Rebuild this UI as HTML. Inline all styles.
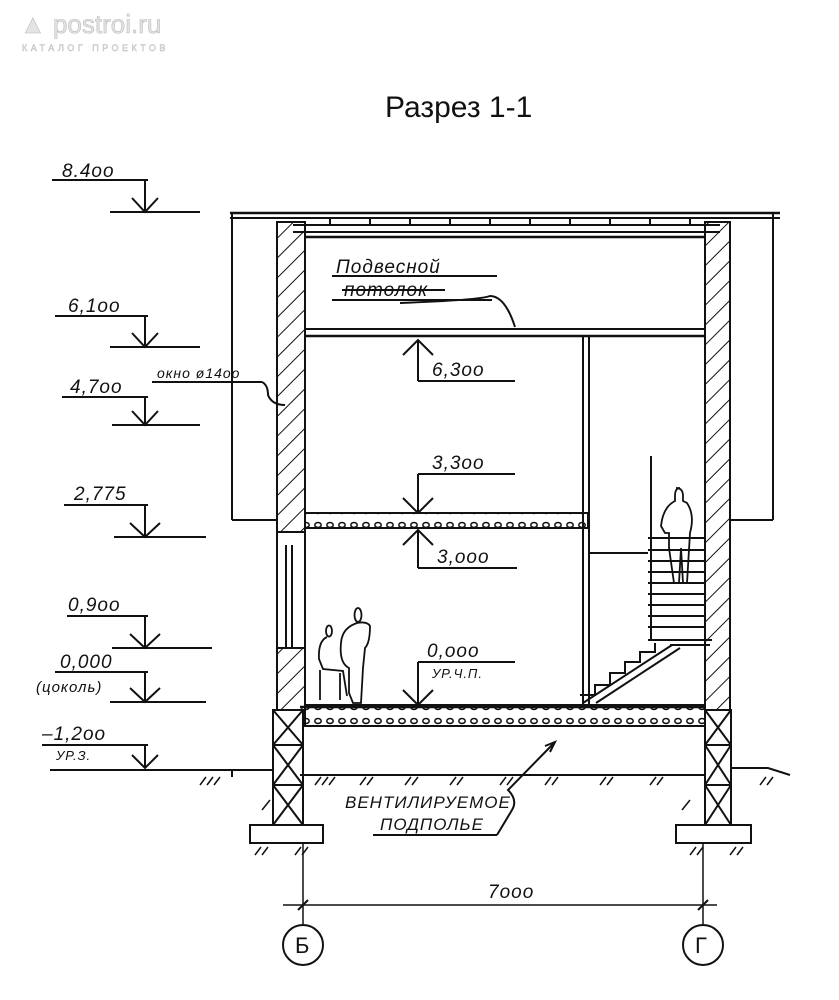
<!DOCTYPE html>
<html><head><meta charset="utf-8"><style>
html,body{margin:0;padding:0;background:#fff;}
svg{display:block;}
text{font-family:"Liberation Sans","DejaVu Sans",sans-serif;fill:#111;}
.h{font-style:italic;font-size:19px;letter-spacing:1px;}
</style></head><body>
<svg width="839" height="1000" viewBox="0 0 839 1000" xmlns="http://www.w3.org/2000/svg">
<defs>
<pattern id="hat" patternUnits="userSpaceOnUse" width="14" height="14" patternTransform="rotate(45)">
<line x1="0" y1="0" x2="0" y2="14" stroke="#111" stroke-width="2"/>
</pattern>
<pattern id="dots" patternUnits="userSpaceOnUse" width="12" height="14">
<ellipse cx="6" cy="7" rx="3.2" ry="2.5" fill="none" stroke="#111" stroke-width="1.5"/>
</pattern>
</defs>
<!-- logo -->
<text x="20" y="33" font-size="26" style="fill:#e4e4e4;stroke:#bbb;stroke-width:0.6">&#9650; postroi.ru</text>
<text x="22" y="51" font-size="9" style="fill:#e4e4e4;stroke:#bbb;stroke-width:0.4" letter-spacing="3.5">КАТАЛОГ ПРОЕКТОВ</text>
<!-- title -->
<text x="385" y="117" font-size="30">Разрез 1-1</text>

<g stroke="#111" fill="none" stroke-width="2">
<g>
<line x1="52" y1="180" x2="148" y2="180"/><line x1="145" y1="180" x2="145" y2="212"/><line x1="110" y1="212" x2="200" y2="212"/><polyline points="132,198 145,212 158,198"/>
<line x1="55" y1="316" x2="148" y2="316"/><line x1="145" y1="316" x2="145" y2="347"/><line x1="110" y1="347" x2="200" y2="347"/><polyline points="132,333 145,347 158,333"/>
<line x1="62" y1="397" x2="148" y2="397"/><line x1="145" y1="397" x2="145" y2="425"/><line x1="112" y1="425" x2="200" y2="425"/><polyline points="132,411 145,425 158,411"/>
<line x1="64" y1="505" x2="148" y2="505"/><line x1="145" y1="505" x2="145" y2="537"/><line x1="114" y1="537" x2="206" y2="537"/><polyline points="130,523 145,537 160,523"/>
<line x1="67" y1="616" x2="148" y2="616"/><line x1="145" y1="616" x2="145" y2="648"/><line x1="112" y1="648" x2="212" y2="648"/><polyline points="130,634 145,648 160,634"/>
<line x1="55" y1="672" x2="148" y2="672"/><line x1="145" y1="672" x2="145" y2="702"/><line x1="110" y1="702" x2="206" y2="702"/><polyline points="130,688 145,702 160,688"/>
<line x1="42" y1="745" x2="148" y2="745"/><line x1="145" y1="745" x2="145" y2="768"/><polyline points="132,755 145,768 158,755"/>
</g>
<line x1="50" y1="770" x2="272" y2="770"/>
<line x1="232" y1="770" x2="232" y2="777"/>
<line x1="300" y1="775" x2="705" y2="775"/>
<polyline points="732,768 768,768 790,775"/>
<line x1="230" y1="213" x2="780" y2="213" stroke-width="2.5"/>
<line x1="230" y1="218" x2="780" y2="218"/>
<line x1="232" y1="213" x2="232" y2="520"/><line x1="232" y1="520" x2="278" y2="520"/>
<line x1="773" y1="213" x2="773" y2="520"/><line x1="730" y1="520" x2="773" y2="520"/>
<line x1="293" y1="225" x2="720" y2="225"/><line x1="293" y1="232" x2="720" y2="232"/>
<line x1="305" y1="237" x2="705" y2="237" stroke-width="2.5"/>
<g stroke-width="2">
<line x1="330" y1="218" x2="330" y2="225"/><line x1="370" y1="218" x2="370" y2="225"/><line x1="410" y1="218" x2="410" y2="225"/><line x1="450" y1="218" x2="450" y2="225"/><line x1="490" y1="218" x2="490" y2="225"/><line x1="530" y1="218" x2="530" y2="225"/><line x1="570" y1="218" x2="570" y2="225"/><line x1="610" y1="218" x2="610" y2="225"/><line x1="650" y1="218" x2="650" y2="225"/><line x1="690" y1="218" x2="690" y2="225"/>
</g>
<rect x="277" y="222" width="28" height="310" fill="url(#hat)"/>
<rect x="277" y="648" width="28" height="62" fill="url(#hat)"/>
<rect x="705" y="222" width="25" height="488" fill="url(#hat)"/>
<rect x="273" y="710" width="30" height="115"/>
<rect x="705" y="710" width="26" height="115"/>
<path d="M273,710 L303,745 M303,710 L273,745 M273,745 L303,785 M303,745 L273,785 M273,785 L303,825 M303,785 L273,825"/>
<path d="M705,710 L731,745 M731,710 L705,745 M705,745 L731,785 M731,745 L705,785 M705,785 L731,825 M731,785 L705,825"/>
<line x1="273" y1="745" x2="303" y2="745"/><line x1="273" y1="785" x2="303" y2="785"/>
<line x1="705" y1="745" x2="731" y2="745"/><line x1="705" y1="785" x2="731" y2="785"/>
<rect x="277" y="532" width="28" height="116"/>
<line x1="286" y1="545" x2="286" y2="648"/><line x1="292" y1="545" x2="292" y2="648"/>
<rect x="250" y="825" width="73" height="18"/>
<rect x="676" y="825" width="75" height="18"/>
<line x1="305" y1="329" x2="705" y2="329"/><line x1="305" y1="336" x2="705" y2="336" stroke-width="2.5"/>
<rect x="305" y="513" width="283" height="15" fill="url(#dots)"/>
<rect x="305" y="705" width="400" height="21" fill="url(#dots)"/>
<line x1="300" y1="707" x2="705" y2="707" stroke-width="2.5"/>
<line x1="583" y1="336" x2="583" y2="707"/><line x1="589" y1="336" x2="589" y2="707"/>
<line x1="589" y1="553" x2="648" y2="553"/>
<line x1="418" y1="340" x2="418" y2="381"/><line x1="418" y1="381" x2="515" y2="381"/><polyline points="403,355 418,340 433,355"/>
<line x1="418" y1="474" x2="418" y2="513"/><line x1="418" y1="474" x2="515" y2="474"/><polyline points="403,498 418,513 433,498"/>
<line x1="418" y1="530" x2="418" y2="568"/><line x1="418" y1="568" x2="517" y2="568"/><polyline points="403,545 418,530 433,545"/>
<line x1="418" y1="662" x2="418" y2="705"/><line x1="418" y1="662" x2="515" y2="662"/><polyline points="403,690 418,705 433,690"/>
<line x1="332" y1="276" x2="497" y2="276"/><line x1="332" y1="300" x2="492" y2="300"/><line x1="342" y1="290" x2="445" y2="290"/>
<path d="M400,303 Q480,300 490,296 Q505,296 515,327"/>
<line x1="152" y1="382" x2="262" y2="382"/><path d="M262,382 Q268,385 268,395 Q272,405 285,405"/>
<line x1="651" y1="456" x2="651" y2="640"/>
<line x1="648" y1="538" x2="705" y2="538"/><line x1="648" y1="550" x2="705" y2="550"/><line x1="648" y1="561" x2="705" y2="561"/><line x1="648" y1="572" x2="705" y2="572"/><line x1="648" y1="583" x2="705" y2="583"/><line x1="648" y1="594" x2="705" y2="594"/><line x1="648" y1="605" x2="705" y2="605"/><line x1="648" y1="616" x2="705" y2="616"/><line x1="648" y1="627" x2="705" y2="627"/>
<line x1="648" y1="640" x2="712" y2="640"/><line x1="670" y1="645" x2="710" y2="645"/>
<line x1="583" y1="703" x2="672" y2="645"/><line x1="596" y1="703" x2="680" y2="648"/>
<polyline points="580,695 595,695 595,685 610,685 610,673 625,673 625,662 640,662 640,652 655,652 655,643"/>
<path d="M680,488 q-5,0 -5,8 v5 q-12,6 -14,25 l4,7 l4,0 v15 l5,35 h5 l2,-35 l2,35 h4 l3,-50 q5,-18 -3,-30 l-4,-2 v-5 q0,-8 -7,-8z" stroke-width="1.8"/>
<ellipse cx="358" cy="615" rx="3.5" ry="7" stroke-width="1.8"/>
<path d="M357,623 q-15,5 -16,20 q-2,20 8,25 v25 l4,10 h8 l2,-35 l2,-20 q5,-5 5,-22 q-3,-5 -13,-3z" stroke-width="1.8"/>
<ellipse cx="329" cy="631" rx="3" ry="5.5" stroke-width="1.8"/>
<path d="M327,637 q-9,4 -8,22 l4,10 l20,2 l4,25 M320,670 v30 M340,673 v27" stroke-width="1.8"/>
<line x1="373" y1="835" x2="497" y2="835"/>
<path d="M497,835 L512,810 Q518,800 508,790 L555,742"/><polyline points="545,746 555,742 550,752"/>
<path stroke-width="1.5" d="M200,785 l6,-8 M207,785 l6,-8 M214,785 l6,-8 M315,785 l6,-8 M322,785 l6,-8 M329,785 l6,-8 M360,785 l6,-8 M367,785 l6,-8 M405,785 l6,-8 M412,785 l6,-8 M450,785 l6,-8 M457,785 l6,-8 M500,785 l6,-8 M507,785 l6,-8 M545,785 l6,-8 M552,785 l6,-8 M600,785 l6,-8 M607,785 l6,-8 M650,785 l6,-8 M657,785 l6,-8 M760,785 l6,-8 M767,785 l6,-8 M255,855 l6,-8 M262,855 l6,-8 M295,855 l6,-8 M302,855 l6,-8 M690,855 l6,-8 M697,855 l6,-8 M730,855 l6,-8 M737,855 l6,-8 M262,810 l8,-10 M682,810 l8,-10"/>
<line x1="303" y1="843" x2="303" y2="925" stroke-width="1.5"/>
<line x1="703" y1="843" x2="703" y2="925" stroke-width="1.5"/>
<line x1="283" y1="905" x2="717" y2="905" stroke-width="1.5"/>
<line x1="298" y1="910" x2="308" y2="900"/><line x1="698" y1="910" x2="708" y2="900"/>
<circle cx="303" cy="945" r="20"/><circle cx="703" cy="945" r="20"/>
</g>
<g class="h">
<text x="62" y="177">8.4oo</text>
<text x="68" y="312">6,1oo</text>
<text x="70" y="393">4,7oo</text>
<text x="74" y="500">2,775</text>
<text x="68" y="611">0,9oo</text>
<text x="60" y="668">0,000</text>
<text x="36" y="692" font-size="15">(цоколь)</text>
<text x="42" y="740">–1,2oo</text>
<text x="56" y="760" font-size="13">УР.З.</text>
<text x="157" y="378" font-size="14">окно ø14oo</text>
<text x="336" y="273">Подвесной</text>
<text x="344" y="296">потолок</text>
<text x="432" y="376">6,3oo</text>
<text x="432" y="469">3,3oo</text>
<text x="437" y="563">3,ooo</text>
<text x="427" y="657">0,ooo</text>
<text x="432" y="678" font-size="13">УР.Ч.П.</text>
<text x="345" y="808" font-size="17">ВЕНТИЛИРУЕМОЕ</text>
<text x="380" y="830" font-size="17">ПОДПОЛЬЕ</text>
<text x="488" y="898">7ooo</text>
<text x="295" y="953" style="font-style:normal" font-size="22">Б</text>
<text x="695" y="953" style="font-style:normal" font-size="22">Г</text>
</g>
</svg>
</body></html>
